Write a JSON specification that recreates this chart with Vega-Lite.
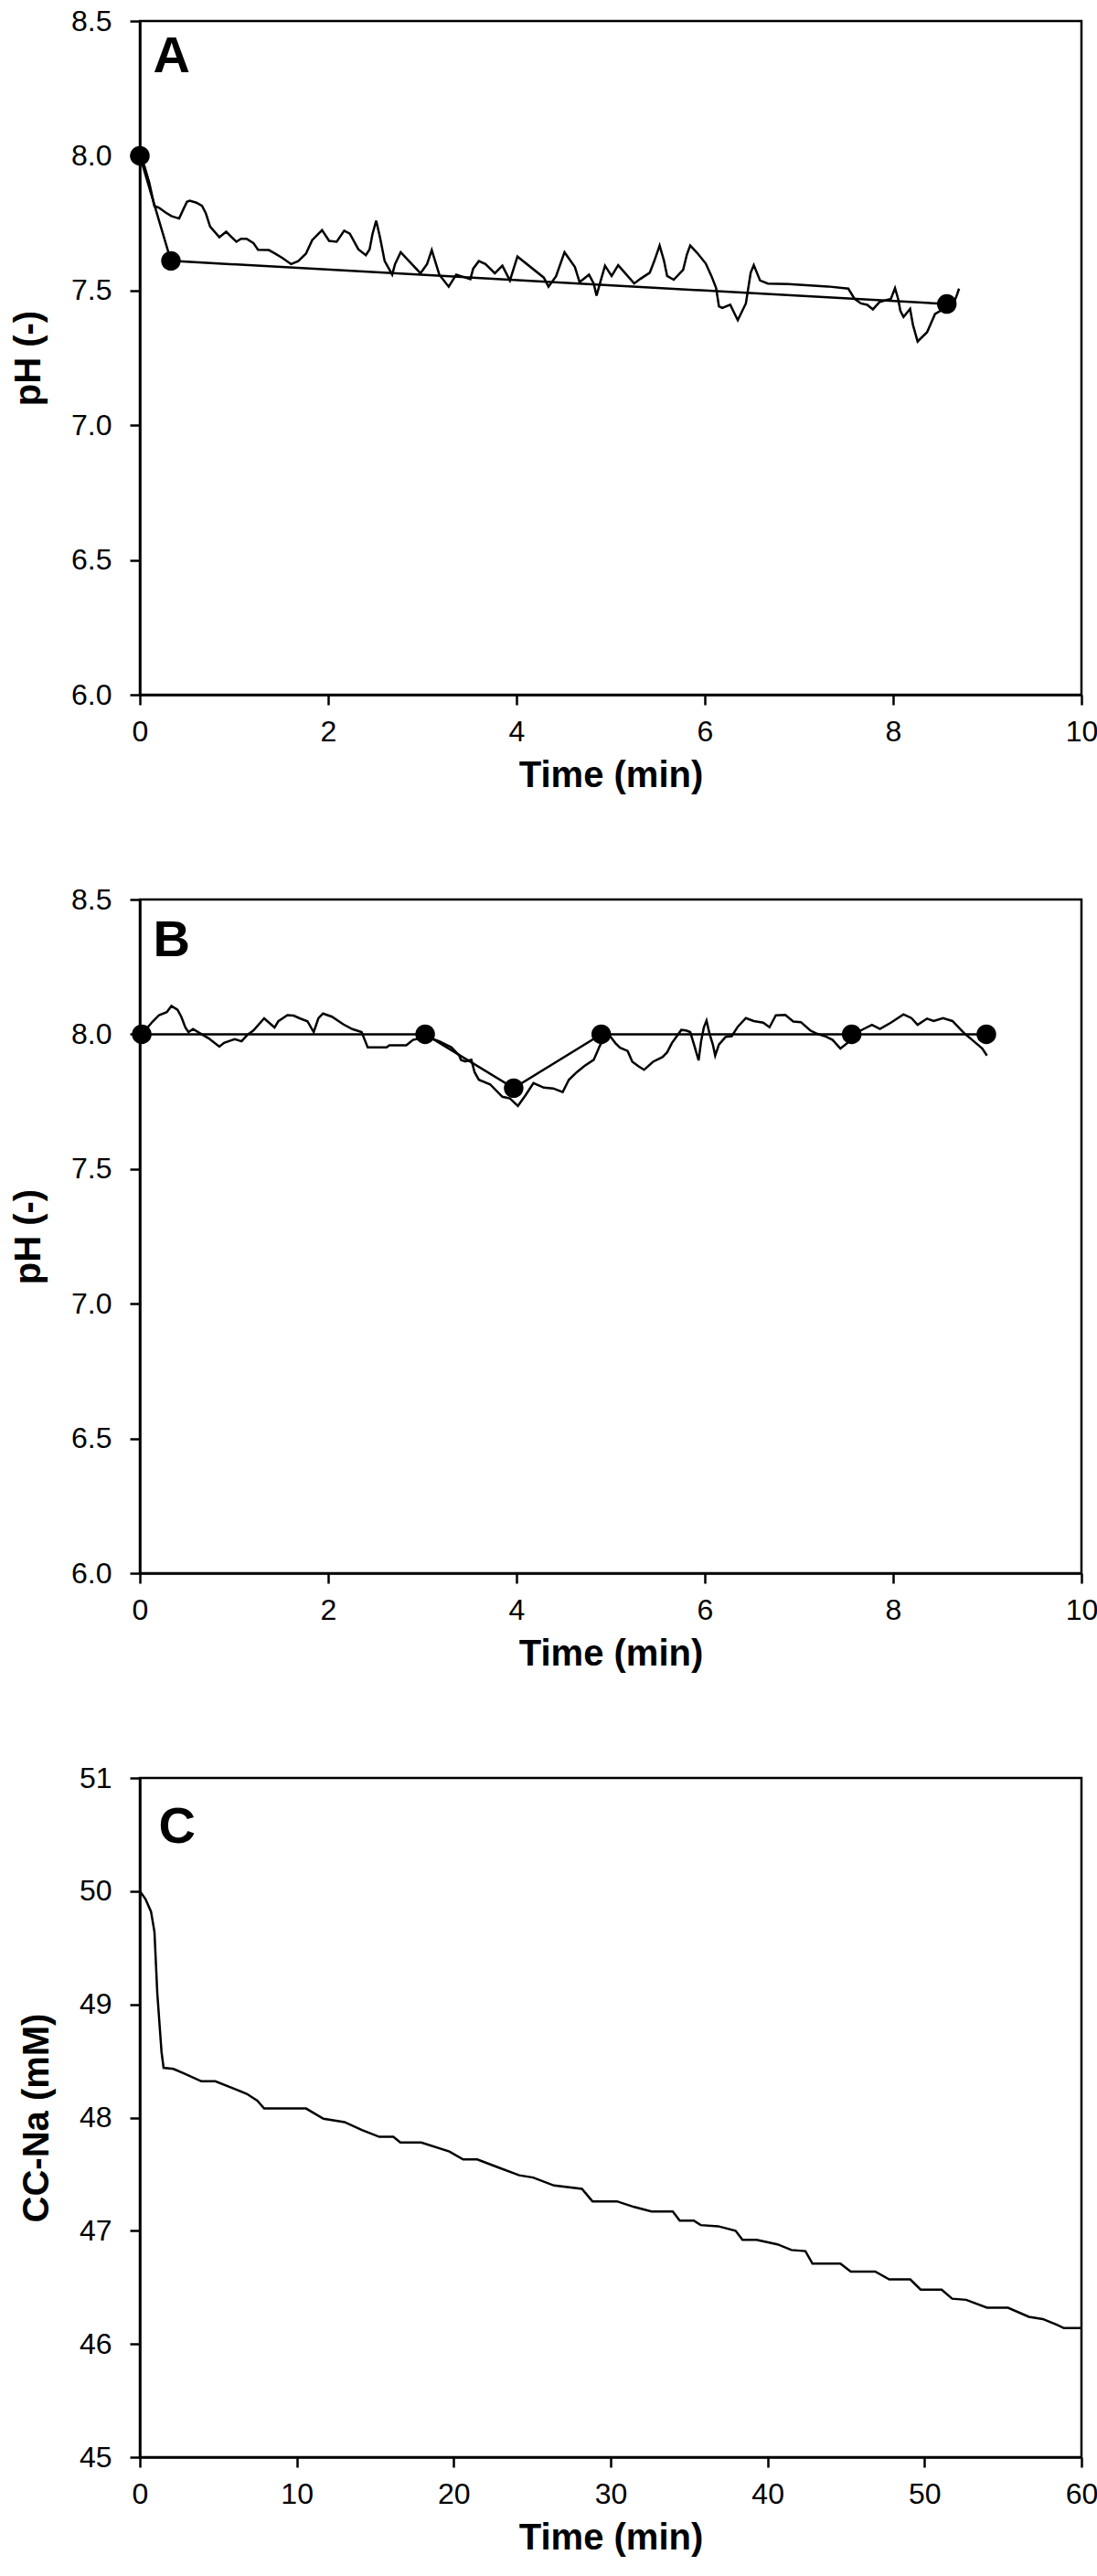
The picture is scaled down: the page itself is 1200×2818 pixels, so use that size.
{
  "$schema": "https://vega.github.io/schema/vega-lite/v6.json",
  "description": "pH of panels A and B and CC-Na concentration of panel C over time",
  "background": "white",
  "padding": {"left": 10, "top": 5, "right": 0, "bottom": 0},
  "spacing": 96,
  "datasets": {
    "a_meas": [
      {"t": 0, "pH": 8.0}, {"t": 0.05, "pH": 7.96}, {"t": 0.1, "pH": 7.9}, {"t": 0.154, "pH": 7.814},
      {"t": 0.204, "pH": 7.807}, {"t": 0.27, "pH": 7.79}, {"t": 0.335, "pH": 7.776}, {"t": 0.417, "pH": 7.767},
      {"t": 0.46, "pH": 7.8}, {"t": 0.5, "pH": 7.829}, {"t": 0.53, "pH": 7.833}, {"t": 0.6, "pH": 7.826},
      {"t": 0.66, "pH": 7.814}, {"t": 0.7, "pH": 7.787}, {"t": 0.746, "pH": 7.737}, {"t": 0.844, "pH": 7.698},
      {"t": 0.917, "pH": 7.718}, {"t": 1.025, "pH": 7.681}, {"t": 1.074, "pH": 7.692}, {"t": 1.133, "pH": 7.692},
      {"t": 1.206, "pH": 7.676}, {"t": 1.255, "pH": 7.651}, {"t": 1.37, "pH": 7.65}, {"t": 1.436, "pH": 7.637},
      {"t": 1.518, "pH": 7.62}, {"t": 1.606, "pH": 7.598}, {"t": 1.682, "pH": 7.609}, {"t": 1.764, "pH": 7.637},
      {"t": 1.83, "pH": 7.687}, {"t": 1.935, "pH": 7.724}, {"t": 2.01, "pH": 7.684}, {"t": 2.09, "pH": 7.681},
      {"t": 2.17, "pH": 7.722}, {"t": 2.23, "pH": 7.711}, {"t": 2.32, "pH": 7.653}, {"t": 2.4, "pH": 7.631},
      {"t": 2.44, "pH": 7.653}, {"t": 2.47, "pH": 7.709}, {"t": 2.51, "pH": 7.759}, {"t": 2.55, "pH": 7.698},
      {"t": 2.6, "pH": 7.609}, {"t": 2.68, "pH": 7.559}, {"t": 2.71, "pH": 7.598}, {"t": 2.77, "pH": 7.642},
      {"t": 2.98, "pH": 7.564}, {"t": 3.05, "pH": 7.598}, {"t": 3.1, "pH": 7.65}, {"t": 3.18, "pH": 7.559},
      {"t": 3.28, "pH": 7.514}, {"t": 3.36, "pH": 7.559}, {"t": 3.51, "pH": 7.542}, {"t": 3.54, "pH": 7.581},
      {"t": 3.6, "pH": 7.609}, {"t": 3.67, "pH": 7.598}, {"t": 3.77, "pH": 7.564}, {"t": 3.85, "pH": 7.592},
      {"t": 3.93, "pH": 7.537}, {"t": 4.01, "pH": 7.626}, {"t": 4.29, "pH": 7.548}, {"t": 4.34, "pH": 7.514},
      {"t": 4.42, "pH": 7.553}, {"t": 4.51, "pH": 7.642}, {"t": 4.62, "pH": 7.587}, {"t": 4.67, "pH": 7.531},
      {"t": 4.77, "pH": 7.559}, {"t": 4.82, "pH": 7.526}, {"t": 4.85, "pH": 7.481}, {"t": 4.89, "pH": 7.531},
      {"t": 4.94, "pH": 7.592}, {"t": 5.01, "pH": 7.554}, {"t": 5.08, "pH": 7.594}, {"t": 5.15, "pH": 7.566},
      {"t": 5.25, "pH": 7.526}, {"t": 5.315, "pH": 7.543}, {"t": 5.415, "pH": 7.566}, {"t": 5.465, "pH": 7.611},
      {"t": 5.52, "pH": 7.667}, {"t": 5.566, "pH": 7.611}, {"t": 5.6, "pH": 7.554}, {"t": 5.67, "pH": 7.54},
      {"t": 5.77, "pH": 7.577}, {"t": 5.81, "pH": 7.634}, {"t": 5.845, "pH": 7.667}, {"t": 5.92, "pH": 7.639},
      {"t": 6.01, "pH": 7.6}, {"t": 6.07, "pH": 7.554}, {"t": 6.12, "pH": 7.509}, {"t": 6.15, "pH": 7.441},
      {"t": 6.185, "pH": 7.435}, {"t": 6.27, "pH": 7.447}, {"t": 6.35, "pH": 7.39}, {"t": 6.436, "pH": 7.452},
      {"t": 6.487, "pH": 7.566}, {"t": 6.52, "pH": 7.594}, {"t": 6.587, "pH": 7.537}, {"t": 6.67, "pH": 7.526},
      {"t": 6.888, "pH": 7.524}, {"t": 7.307, "pH": 7.515}, {"t": 7.524, "pH": 7.507}, {"t": 7.59, "pH": 7.469},
      {"t": 7.658, "pH": 7.452}, {"t": 7.725, "pH": 7.447}, {"t": 7.785, "pH": 7.43}, {"t": 7.858, "pH": 7.458},
      {"t": 7.976, "pH": 7.469}, {"t": 8.02, "pH": 7.509}, {"t": 8.053, "pH": 7.469}, {"t": 8.077, "pH": 7.424},
      {"t": 8.11, "pH": 7.402}, {"t": 8.18, "pH": 7.432}, {"t": 8.21, "pH": 7.373}, {"t": 8.26, "pH": 7.311},
      {"t": 8.36, "pH": 7.345}, {"t": 8.445, "pH": 7.413}, {"t": 8.53, "pH": 7.43}, {"t": 8.63, "pH": 7.441},
      {"t": 8.68, "pH": 7.486}, {"t": 8.7, "pH": 7.507}
    ],
    "a_model": [
      {"t": 0, "pH": 8.0}, {"t": 0.33, "pH": 7.61}, {"t": 8.57, "pH": 7.45}
    ],
    "b_meas": [
      {"t": 0.02, "pH": 8.0}, {"t": 0.138, "pH": 8.048}, {"t": 0.204, "pH": 8.071}, {"t": 0.286, "pH": 8.082},
      {"t": 0.335, "pH": 8.105}, {"t": 0.4, "pH": 8.091}, {"t": 0.44, "pH": 8.065}, {"t": 0.483, "pH": 8.025},
      {"t": 0.516, "pH": 8.008}, {"t": 0.565, "pH": 8.019}, {"t": 0.647, "pH": 8.002}, {"t": 0.73, "pH": 7.985},
      {"t": 0.844, "pH": 7.954}, {"t": 0.894, "pH": 7.968}, {"t": 1.009, "pH": 7.982}, {"t": 1.08, "pH": 7.974},
      {"t": 1.14, "pH": 7.997}, {"t": 1.206, "pH": 8.014}, {"t": 1.32, "pH": 8.059}, {"t": 1.43, "pH": 8.025},
      {"t": 1.47, "pH": 8.048}, {"t": 1.567, "pH": 8.071}, {"t": 1.633, "pH": 8.069}, {"t": 1.698, "pH": 8.059},
      {"t": 1.78, "pH": 8.048}, {"t": 1.846, "pH": 8.008}, {"t": 1.896, "pH": 8.059}, {"t": 1.945, "pH": 8.077},
      {"t": 2.04, "pH": 8.065}, {"t": 2.16, "pH": 8.037}, {"t": 2.257, "pH": 8.019}, {"t": 2.355, "pH": 8.008},
      {"t": 2.42, "pH": 7.951}, {"t": 2.62, "pH": 7.951}, {"t": 2.65, "pH": 7.959}, {"t": 2.83, "pH": 7.959},
      {"t": 2.9, "pH": 7.979}, {"t": 2.98, "pH": 7.985}, {"t": 3.05, "pH": 7.99}, {"t": 3.18, "pH": 7.974},
      {"t": 3.31, "pH": 7.951}, {"t": 3.39, "pH": 7.922}, {"t": 3.41, "pH": 7.905}, {"t": 3.456, "pH": 7.899},
      {"t": 3.52, "pH": 7.905}, {"t": 3.555, "pH": 7.859}, {"t": 3.6, "pH": 7.831}, {"t": 3.72, "pH": 7.814},
      {"t": 3.85, "pH": 7.768}, {"t": 3.93, "pH": 7.762}, {"t": 4.015, "pH": 7.734}, {"t": 4.097, "pH": 7.774},
      {"t": 4.18, "pH": 7.819}, {"t": 4.29, "pH": 7.802}, {"t": 4.39, "pH": 7.799}, {"t": 4.49, "pH": 7.785},
      {"t": 4.556, "pH": 7.831}, {"t": 4.64, "pH": 7.859}, {"t": 4.72, "pH": 7.882}, {"t": 4.82, "pH": 7.905},
      {"t": 4.885, "pH": 7.957}, {"t": 4.92, "pH": 7.98}, {"t": 4.96, "pH": 8.0}, {"t": 5.0, "pH": 7.99},
      {"t": 5.05, "pH": 7.967}, {"t": 5.1, "pH": 7.95}, {"t": 5.18, "pH": 7.938}, {"t": 5.23, "pH": 7.898},
      {"t": 5.3, "pH": 7.88}, {"t": 5.355, "pH": 7.868}, {"t": 5.45, "pH": 7.898}, {"t": 5.55, "pH": 7.915},
      {"t": 5.6, "pH": 7.933}, {"t": 5.65, "pH": 7.967}, {"t": 5.75, "pH": 8.016}, {"t": 5.8, "pH": 8.014},
      {"t": 5.845, "pH": 8.008}, {"t": 5.885, "pH": 7.962}, {"t": 5.934, "pH": 7.903}, {"t": 5.96, "pH": 7.973},
      {"t": 5.99, "pH": 8.026}, {"t": 6.018, "pH": 8.051}, {"t": 6.05, "pH": 8.002}, {"t": 6.085, "pH": 7.962},
      {"t": 6.11, "pH": 7.921}, {"t": 6.15, "pH": 7.962}, {"t": 6.22, "pH": 7.99}, {"t": 6.286, "pH": 7.993},
      {"t": 6.35, "pH": 8.028}, {"t": 6.436, "pH": 8.06}, {"t": 6.52, "pH": 8.049}, {"t": 6.62, "pH": 8.043},
      {"t": 6.687, "pH": 8.026}, {"t": 6.754, "pH": 8.07}, {"t": 6.855, "pH": 8.072}, {"t": 6.94, "pH": 8.047},
      {"t": 7.02, "pH": 8.045}, {"t": 7.12, "pH": 8.014}, {"t": 7.19, "pH": 8.002}, {"t": 7.29, "pH": 7.991},
      {"t": 7.357, "pH": 7.979}, {"t": 7.44, "pH": 7.947}, {"t": 7.524, "pH": 7.97}, {"t": 7.59, "pH": 8.002},
      {"t": 7.69, "pH": 8.02}, {"t": 7.775, "pH": 8.035}, {"t": 7.86, "pH": 8.02}, {"t": 7.976, "pH": 8.043},
      {"t": 8.11, "pH": 8.074}, {"t": 8.194, "pH": 8.06}, {"t": 8.26, "pH": 8.035}, {"t": 8.36, "pH": 8.058},
      {"t": 8.43, "pH": 8.049}, {"t": 8.53, "pH": 8.06}, {"t": 8.63, "pH": 8.049}, {"t": 8.76, "pH": 8.002},
      {"t": 8.86, "pH": 7.973}, {"t": 8.947, "pH": 7.947}, {"t": 8.996, "pH": 7.921}
    ],
    "b_model": [
      {"t": 0.02, "pH": 8.0}, {"t": 3.03, "pH": 8.0}, {"t": 3.97, "pH": 7.8}, {"t": 4.9, "pH": 8.0},
      {"t": 7.56, "pH": 8.0}, {"t": 8.99, "pH": 8.0}
    ],
    "c_meas": [
      {"t": 0, "na": 50.0}, {"t": 0.36, "na": 49.93}, {"t": 0.71, "na": 49.82}, {"t": 0.93, "na": 49.64},
      {"t": 1.11, "na": 49.1}, {"t": 1.38, "na": 48.58}, {"t": 1.51, "na": 48.44}, {"t": 2.14, "na": 48.43},
      {"t": 2.8, "na": 48.39}, {"t": 3.92, "na": 48.32}, {"t": 4.81, "na": 48.32}, {"t": 5.92, "na": 48.26},
      {"t": 6.81, "na": 48.21}, {"t": 7.48, "na": 48.15}, {"t": 7.92, "na": 48.08}, {"t": 10.59, "na": 48.08},
      {"t": 11.7, "na": 47.99}, {"t": 13.04, "na": 47.96}, {"t": 14.15, "na": 47.89}, {"t": 15.26, "na": 47.83},
      {"t": 16.15, "na": 47.83}, {"t": 16.6, "na": 47.78}, {"t": 17.93, "na": 47.78}, {"t": 19.72, "na": 47.7},
      {"t": 20.6, "na": 47.63}, {"t": 21.5, "na": 47.63}, {"t": 22.83, "na": 47.56}, {"t": 24.17, "na": 47.49},
      {"t": 25.06, "na": 47.47}, {"t": 26.39, "na": 47.4}, {"t": 28.17, "na": 47.37}, {"t": 28.84, "na": 47.26},
      {"t": 30.4, "na": 47.26}, {"t": 31.5, "na": 47.21}, {"t": 32.6, "na": 47.17}, {"t": 33.96, "na": 47.17},
      {"t": 34.4, "na": 47.09}, {"t": 35.3, "na": 47.09}, {"t": 35.74, "na": 47.05}, {"t": 36.85, "na": 47.04},
      {"t": 37.96, "na": 47.0}, {"t": 38.4, "na": 46.92}, {"t": 39.3, "na": 46.92}, {"t": 40.63, "na": 46.88},
      {"t": 41.52, "na": 46.83}, {"t": 42.41, "na": 46.82}, {"t": 42.86, "na": 46.71}, {"t": 44.64, "na": 46.71},
      {"t": 45.3, "na": 46.64}, {"t": 46.86, "na": 46.64}, {"t": 47.75, "na": 46.57}, {"t": 49.09, "na": 46.57},
      {"t": 49.75, "na": 46.48}, {"t": 51.09, "na": 46.48}, {"t": 51.76, "na": 46.4}, {"t": 52.65, "na": 46.39},
      {"t": 53.98, "na": 46.32}, {"t": 55.32, "na": 46.32}, {"t": 56.65, "na": 46.24}, {"t": 57.54, "na": 46.22},
      {"t": 58.43, "na": 46.17}, {"t": 58.88, "na": 46.14}, {"t": 60, "na": 46.14}
    ]
  },
  "config": {
    "font": "Liberation Sans",
    "view": {"stroke": "black", "strokeWidth": 2.5},
    "axis": {
      "grid": false,
      "domainColor": "black",
      "domainWidth": 2.5,
      "tickColor": "black",
      "tickWidth": 2.5,
      "tickSize": 11,
      "labelFont": "Liberation Sans",
      "labelFontSize": 32,
      "labelColor": "black",
      "labelPadding": 14,
      "labelFlush": false,
      "labelOverlap": false,
      "labelBound": false,
      "titleFont": "Liberation Sans",
      "titleFontSize": 40,
      "titleFontWeight": "bold",
      "titleColor": "black"
    },
    "axisX": {"titlePadding": 12, "format": "d"},
    "axisY": {"titlePadding": 26, "labelPadding": 20},
    "text": {"font": "Liberation Sans", "fontSize": 56, "fontWeight": "bold", "align": "left", "baseline": "alphabetic", "color": "black"}
  },
  "vconcat": [
    {
      "width": 1030,
      "height": 737,
      "layer": [
        {
          "data": {"name": "a_meas"},
          "mark": {"type": "line", "color": "black", "strokeWidth": 2.5},
          "encoding": {
            "x": {"field": "t", "type": "quantitative", "scale": {"domain": [0, 10], "nice": false}, "axis": {"values": [0, 2, 4, 6, 8, 10], "format": "d", "title": "Time (min)"}},
            "y": {"field": "pH", "type": "quantitative", "scale": {"domain": [6, 8.5], "nice": false, "zero": false}, "axis": {"values": [6, 6.5, 7, 7.5, 8, 8.5], "format": ".1f", "title": "pH (-)"}}
          }
        },
        {
          "data": {"name": "a_model"},
          "mark": {"type": "line", "color": "black", "strokeWidth": 2.5, "point": {"filled": true, "size": 460, "color": "black", "opacity": 1}},
          "encoding": {
            "x": {"field": "t", "type": "quantitative"},
            "y": {"field": "pH", "type": "quantitative"}
          }
        },
        {
          "data": {"values": [{}]},
          "mark": {"type": "text", "text": "A"},
          "encoding": {
            "x": {"datum": 0.14, "type": "quantitative"},
            "y": {"datum": 8.31, "type": "quantitative"}
          }
        }
      ]
    },
    {
      "width": 1030,
      "height": 737,
      "layer": [
        {
          "data": {"name": "b_meas"},
          "mark": {"type": "line", "color": "black", "strokeWidth": 2.5},
          "encoding": {
            "x": {"field": "t", "type": "quantitative", "scale": {"domain": [0, 10], "nice": false}, "axis": {"values": [0, 2, 4, 6, 8, 10], "format": "d", "title": "Time (min)"}},
            "y": {"field": "pH", "type": "quantitative", "scale": {"domain": [6, 8.5], "nice": false, "zero": false}, "axis": {"values": [6, 6.5, 7, 7.5, 8, 8.5], "format": ".1f", "title": "pH (-)"}}
          }
        },
        {
          "data": {"name": "b_model"},
          "mark": {"type": "line", "color": "black", "strokeWidth": 2.5, "point": {"filled": true, "size": 460, "color": "black", "opacity": 1}},
          "encoding": {
            "x": {"field": "t", "type": "quantitative"},
            "y": {"field": "pH", "type": "quantitative"}
          }
        },
        {
          "data": {"values": [{}]},
          "mark": {"type": "text", "text": "B"},
          "encoding": {
            "x": {"datum": 0.14, "type": "quantitative"},
            "y": {"datum": 8.29, "type": "quantitative"}
          }
        }
      ]
    },
    {
      "width": 1030,
      "height": 743,
      "layer": [
        {
          "data": {"name": "c_meas"},
          "mark": {"type": "line", "color": "black", "strokeWidth": 2.5},
          "encoding": {
            "x": {"field": "t", "type": "quantitative", "scale": {"domain": [0, 60], "nice": false}, "axis": {"values": [0, 10, 20, 30, 40, 50, 60], "format": "d", "title": "Time (min)"}},
            "y": {"field": "na", "type": "quantitative", "scale": {"domain": [45, 51], "nice": false, "zero": false}, "axis": {"values": [45, 46, 47, 48, 49, 50, 51], "format": "d", "title": "CC-Na (mM)"}}
          }
        },
        {
          "data": {"values": [{}]},
          "mark": {"type": "text", "text": "C"},
          "encoding": {
            "x": {"datum": 1.2, "type": "quantitative"},
            "y": {"datum": 50.43, "type": "quantitative"}
          }
        }
      ]
    }
  ]
}
